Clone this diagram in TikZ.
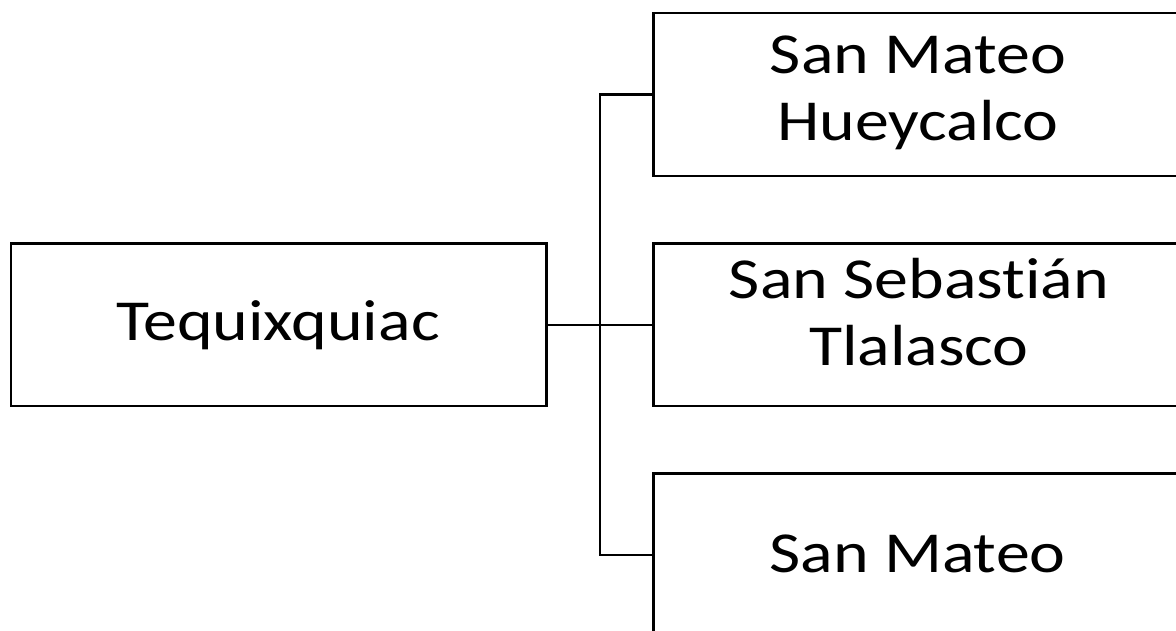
\documentclass[tikz,border=0pt]{standalone}
\usepackage{fontspec}
\setmainfont[FakeStretch=1.17,Ligatures={NoCommon}]{Carlito}
\begin{document}
\begin{tikzpicture}[x=1pt,y=-1pt,
  box/.style={draw=black,line width=2.3pt,rectangle,inner sep=0pt,fill=white},
  link/.style={draw=black,line width=2.3pt},
  lbl/.style={font=\fontsize{58}{67}\selectfont,align=center,inner sep=0pt,anchor=base}]
\useasboundingbox (0,0) rectangle (1176,630);
\fill[white] (0,0) rectangle (1176,630);
\begin{scope}
\clip (0,0) rectangle (1176,630);
\node[box,minimum width=535.5pt,minimum height=162.5pt] (t) at (278.75,324.75) {};
\node[box,minimum width=530pt,minimum height=163.3pt] (a) at (918.5,94.35) {};
\node[box,minimum width=530pt,minimum height=162.5pt] (b) at (918.5,324.75) {};
\node[box,minimum width=530pt,minimum height=163pt] (c) at (918.5,555) {};
\coordinate (j) at (600,324.75);
\draw[link] (t.east) -- (b.west);
\draw[link] (a.west) -| (j) |- (c.west);
\node[lbl] (tl) at (278,340) {Tequixquiac};
\node[lbl] (al) at (918,140) {San Mateo\\Hueycalco};
\node[lbl] (bl) at (919,365) {San Sebastián\\Tlalasco};
\node[lbl] (cl) at (917.5,572) {San Mateo};
\end{scope}
\end{tikzpicture}
\end{document}
